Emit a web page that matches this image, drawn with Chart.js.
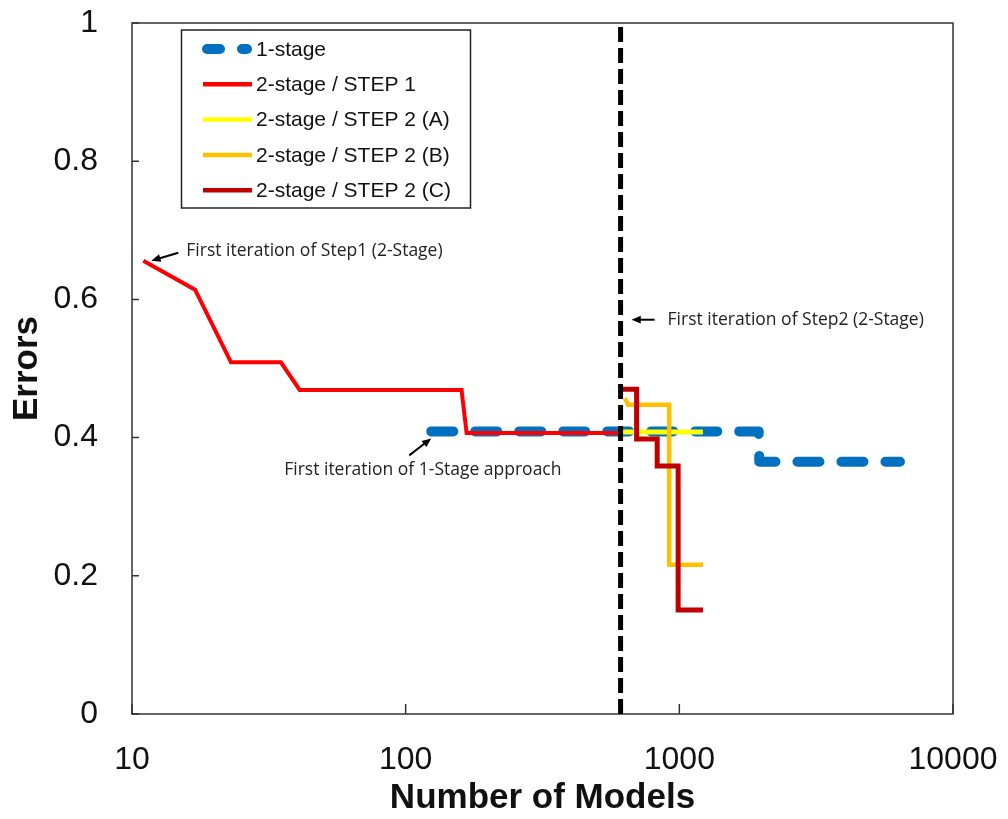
<!DOCTYPE html>
<html>
<head>
<meta charset="utf-8">
<title>Errors vs number of models</title>
<script src="https://cdn.jsdelivr.net/npm/chart.js@4.4.1/dist/chart.umd.min.js"></script>
<style>
  html, body { margin: 0; padding: 0; background: #fff; }
  #wrap { width: 1008px; height: 819px; }
</style>
</head>
<body>
<div id="wrap"><canvas id="errorsChart" width="1008" height="819"></canvas></div>
<script>
// Axis ticks
const xTicks = [10, 100, 1000, 10000];
const yTicks = [0, 0.2, 0.4, 0.6, 0.8, 1];

// 1-stage search
const oneStageX = [124, 1950, 1960, 6400];
const oneStageY = [0.409, 0.409, 0.365, 0.365];

// 2-stage, step 1
const step1X = [11, 17, 23, 35, 41, 160, 167, 606];
const step1Y = [0.656, 0.614, 0.509, 0.509, 0.469, 0.469, 0.4065, 0.4065];

// 2-stage, step 2 variants
const step2aX = [610, 1220];
const step2aY = [0.408, 0.408];

const step2bX = [632, 650, 918, 918, 1220];
const step2bY = [0.457, 0.4475, 0.4475, 0.216, 0.216];

const step2cX = [610, 698, 698, 830, 830, 990, 990, 1220];
const step2cY = [0.470, 0.470, 0.398, 0.398, 0.359, 0.359, 0.1506, 0.1506];

// Start of step 2 (vertical marker)
const step2StartX = 610;

const seriesLabels = ['1-stage', '2-stage / STEP 1', '2-stage / STEP 2 (A)', '2-stage / STEP 2 (B)', '2-stage / STEP 2 (C)'];

const notes = [
  { text: 'First iteration of Step1 (2-Stage)', x: 11, y: 0.656 },
  { text: 'First iteration of Step2 (2-Stage)', x: 669, y: 0.5706 },
  { text: 'First iteration of 1-Stage approach', x: 124, y: 0.409 },
];

const zip = (xs, ys) => xs.map((x, i) => ({ x, y: ys[i] }));

const ARIAL = '"Liberation Sans", Arial, sans-serif';
const CALIBRI = '"Open Sans", "Noto Sans", sans-serif';

function series(label, xs, ys, color, width, order, extra) {
  return Object.assign({
    label,
    data: zip(xs, ys),
    borderColor: color,
    backgroundColor: color,
    borderWidth: width,
    pointRadius: 0,
    tension: 0,
    fill: false,
    order,
  }, extra || {});
}

// Draw an arrow with a filled head
function arrow(c, x1, y1, x2, y2) {
  const ang = Math.atan2(y2 - y1, x2 - x1);
  const head = 10;
  c.save();
  c.strokeStyle = '#000';
  c.fillStyle = '#000';
  c.lineWidth = 2;
  c.beginPath();
  c.moveTo(x1, y1);
  c.lineTo(x2 - Math.cos(ang) * head * 0.8, y2 - Math.sin(ang) * head * 0.8);
  c.stroke();
  c.beginPath();
  c.moveTo(x2, y2);
  c.lineTo(x2 - head * Math.cos(ang - 0.4), y2 - head * Math.sin(ang - 0.4));
  c.lineTo(x2 - head * Math.cos(ang + 0.4), y2 - head * Math.sin(ang + 0.4));
  c.closePath();
  c.fill();
  c.restore();
}

const framePlugin = {
  id: 'frame',
  beforeDatasetsDraw(chart) {
    const { ctx: c, chartArea: a, scales } = chart;
    c.save();
    c.strokeStyle = '#333';
    c.lineWidth = 1.5;
    c.strokeRect(a.left, a.top, a.right - a.left, a.bottom - a.top);
    // inward tick marks
    c.beginPath();
    xTicks.forEach((v) => {
      const px = scales.x.getPixelForValue(v);
      c.moveTo(px, a.bottom);
      c.lineTo(px, a.bottom - 10);
    });
    yTicks.forEach((v) => {
      const py = scales.y.getPixelForValue(v);
      c.moveTo(a.left, py);
      c.lineTo(a.left + 7, py);
    });
    c.stroke();
    c.restore();
  },
  afterDatasetsDraw(chart) {
    const { ctx: c, scales } = chart;
    const sx = (v) => scales.x.getPixelForValue(v);
    const sy = (v) => scales.y.getPixelForValue(v);

    // legend box
    c.save();
    const box = { x: 181.5, y: 30, w: 289, h: 178 };
    c.fillStyle = '#fff';
    c.fillRect(box.x, box.y, box.w, box.h);
    c.strokeStyle = '#222';
    c.lineWidth = 1.5;
    c.strokeRect(box.x, box.y, box.w, box.h);
    c.font = '21px ' + ARIAL;
    c.textBaseline = 'middle';
    c.textAlign = 'left';
    const rows = chart.data.datasets.filter((d) => seriesLabels.includes(d.label));
    rows.sort((p, q) => seriesLabels.indexOf(p.label) - seriesLabels.indexOf(q.label));
    rows.forEach((d, i) => {
      const y = 49 + i * 35.3;
      c.beginPath();
      c.strokeStyle = d.borderColor;
      if (d.borderDash) {
        c.lineWidth = d.borderWidth;
        c.lineCap = 'round';
        c.setLineDash([13, 22]);
        c.moveTo(207, y);
        c.lineTo(247, y);
      } else {
        c.lineWidth = 4.5;
        c.lineCap = 'butt';
        c.setLineDash([]);
        c.moveTo(203, y);
        c.lineTo(252, y);
      }
      c.stroke();
      c.setLineDash([]);
      c.fillStyle = '#111';
      c.fillText(d.label, 256, y + 1);
    });
    c.restore();

    // annotations
    c.save();
    c.font = '17.5px ' + CALIBRI;
    c.fillStyle = '#222';
    c.textBaseline = 'middle';
    c.textAlign = 'left';
    let px = sx(notes[0].x), py = sy(notes[0].y);
    arrow(c, px + 35, py - 8, px + 8, py);
    c.fillText(notes[0].text, px + 43, py - 10);

    px = sx(notes[1].x); py = sy(notes[1].y);
    arrow(c, px + 23, py, px, py);
    c.fillText(notes[1].text, px + 36, py);

    px = sx(notes[2].x); py = sy(notes[2].y);
    arrow(c, px - 22, py + 24, px, py + 7);
    c.fillText(notes[2].text, px - 147, py + 39);
    c.restore();
  },
};

new Chart(document.getElementById('errorsChart'), {
  type: 'line',
  data: {
    datasets: [
      {
        label: '',
        data: [{ x: step2StartX, y: 0 }, { x: step2StartX, y: 1 }],
        borderColor: '#000',
        borderWidth: 5,
        borderDash: [15, 6],
        pointRadius: 0,
        fill: false,
        order: 0,
      },
      series(seriesLabels[4], step2cX, step2cY, '#C00000', 5, 1),
      series(seriesLabels[3], step2bX, step2bY, '#FFC000', 4.5, 2),
      series(seriesLabels[2], step2aX, step2aY, '#FFFF00', 5, 3),
      series(seriesLabels[1], step1X, step1Y, '#FF0000', 4, 4),
      series(seriesLabels[0], oneStageX, oneStageY, '#0070C0', 10, 5, {
        borderDash: [22, 22],
        borderCapStyle: 'round',
        borderJoinStyle: 'round',
      }),
    ],
  },
  options: {
    responsive: false,
    animation: false,
    events: [],
    layout: { padding: { left: 0, right: 55, top: 23, bottom: 0 } },
    plugins: {
      legend: { display: false },
      tooltip: { enabled: false },
    },
    scales: {
      x: {
        type: 'logarithmic',
        min: 10,
        max: 10000,
        grid: { display: false },
        border: { display: false },
        afterBuildTicks: (s) => { s.ticks = xTicks.map((v) => ({ value: v })); },
        afterFit: (s) => {
          s.height = 105;
          s.paddingLeft = 0;
          s.paddingRight = 0;
        },
        ticks: {
          autoSkip: false,
          maxRotation: 0,
          padding: 19,
          color: '#111',
          font: { family: ARIAL, size: 32 },
          callback: (v) => String(v),
        },
        title: {
          display: true,
          text: 'Number of Models',
          color: '#111',
          font: { family: ARIAL, size: 35, weight: 'bold' },
          padding: { top: 0, bottom: 0 },
        },
      },
      y: {
        min: 0,
        max: 1,
        grid: { display: false },
        border: { display: false },
        afterBuildTicks: (s) => { s.ticks = yTicks.map((v) => ({ value: v })); },
        afterFit: (s) => {
          s.width = 132;
          s.paddingTop = 0;
          s.paddingBottom = 0;
        },
        ticks: {
          padding: 26,
          color: '#111',
          font: { family: ARIAL, size: 32 },
          callback: (v) => String(v),
        },
        title: {
          display: true,
          text: 'Errors',
          color: '#111',
          font: { family: ARIAL, size: 35, weight: 'bold' },
          padding: { top: 6, bottom: 0 },
        },
      },
    },
  },
  plugins: [framePlugin],
});
</script>
</body>
</html>
